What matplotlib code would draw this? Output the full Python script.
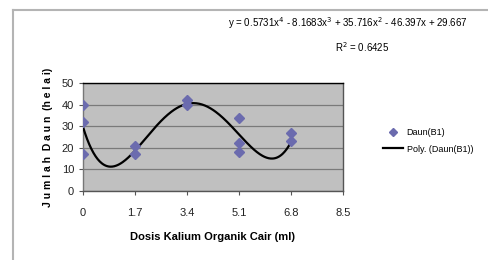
import numpy as np
import matplotlib.pyplot as plt
from matplotlib.lines import Line2D

# data
dose_x = [0, 0, 0, 1.7, 1.7, 3.4, 3.4, 5.1, 5.1, 5.1, 6.8, 6.8]
leaves_y = [40, 32, 17, 21, 17, 42, 40, 34, 22, 18, 27, 23]
poly_coef = [0.5731, -8.1683, 35.716, -46.397, 29.667]  # x^4 .. x^0
r_squared = 0.6425
x_ticks = [0, 1.7, 3.4, 5.1, 6.8, 8.5]
y_ticks = [0, 10, 20, 30, 40, 50]

plt.rcParams['font.family'] = ['Liberation Sans', 'DejaVu Sans']

fig = plt.figure(figsize=(4.88, 2.6), dpi=100)

# outer chart frame (only left and top edges are visible in the crop)
frame_kw = dict(transform=fig.transFigure, color='#b4b4b4', linewidth=1.5)
fig.lines.append(Line2D([13 / 488, 13 / 488], [0, 1 - 10 / 260], **frame_kw))
fig.lines.append(Line2D([13 / 488, 1], [1 - 10 / 260, 1 - 10 / 260], **frame_kw))

ax = fig.add_axes([83 / 488, 1 - 191 / 260, 260 / 488, 108 / 260])
ax.set_facecolor('#c0c0c0')

xs = np.linspace(0, 6.8, 300)
ax.plot(xs, np.polyval(poly_coef, xs), color='black', linewidth=1.6,
        zorder=3, label='Poly. (Daun(B1))')
ax.plot(dose_x, leaves_y, linestyle='none', marker='D', markersize=5.5,
        color='#6b6bae', zorder=4, label='Daun(B1)')

ax.set_xlim(0, 8.5)
ax.set_ylim(0, 50)
ax.set_xticks(x_ticks)
ax.set_xticklabels(['0', '1.7', '3.4', '5.1', '6.8', '8.5'])
ax.set_yticks(y_ticks)
ax.yaxis.grid(True, color='#7a7a7a', linewidth=0.9)
ax.set_axisbelow(True)
ax.tick_params(axis='both', labelsize=8, length=3, color='#555555',
               labelcolor='#222222')
ax.tick_params(axis='x', pad=9)

ax.spines['top'].set_color('black')
ax.spines['right'].set_color('#555555')
ax.spines['left'].set_color('#777777')
ax.spines['bottom'].set_color('#555555')
for s in ax.spines.values():
    s.set_linewidth(1.0)

ax.set_xlabel('Dosis Kalium Organik Cair (ml)', fontsize=8, fontweight='bold',
              labelpad=10)
ax.set_ylabel('J u m l a h  D a u n  (h e l a i)', fontsize=7.5,
              fontweight='bold', labelpad=6)

a, b, c, d, e = poly_coef
eq = (f'y = {a}x$^4$ - {abs(b)}x$^3$ + {c}x$^2$ - {abs(d)}x + {e}')
fig.text(348 / 488, 1 - 23 / 260, eq, fontsize=7, ha='center', va='center')
fig.text(362 / 488, 1 - 47 / 260, f'R$^2$ = {r_squared}', fontsize=7,
         ha='center', va='center')

handles, labels = ax.get_legend_handles_labels()
leg = fig.legend([handles[1], handles[0]], [labels[1], labels[0]],
                 loc='center left', bbox_to_anchor=(375 / 488, 1 - 141 / 260),
                 frameon=False, fontsize=6.5, handlelength=2.2,
                 handletextpad=0.4, labelspacing=0.8, markerscale=0.7)

fig.savefig('out.png', dpi=100)
